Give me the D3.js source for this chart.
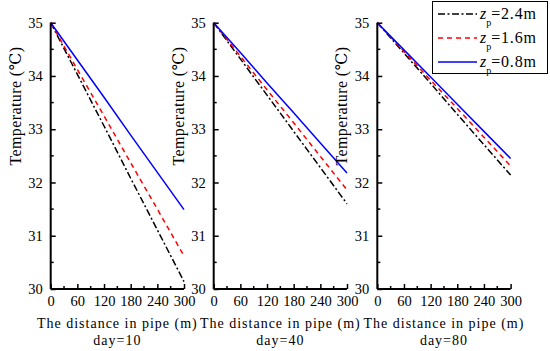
<!DOCTYPE html>
<html><head><meta charset="utf-8">
<script src="https://cdn.jsdelivr.net/npm/d3@7"></script>
<style>body{margin:0;background:#fff;} svg text{font-family:"Liberation Serif","Times New Roman","DejaVu Serif",serif;}</style>
</head><body>
<svg id="c" width="550" height="351"></svg>
<script>
const distance = [0, 60, 120, 180, 240, 300];
const days = ["day=10", "day=40", "day=80"];
const seriesNames = ["2.4m", "1.6m", "0.8m"];
// values per panel (day), per series (zp)
const day10_zp24 = [35, 34.03, 33.06, 32.08, 31.11, 30.14];
const day10_zp16 = [35, 34.12, 33.25, 32.37, 31.50, 30.62];
const day10_zp08 = [35, 34.30, 33.60, 32.89, 32.19, 31.49];
const day40_zp24 = [35, 34.32, 33.64, 32.96, 32.28, 31.60];
const day40_zp16 = [35, 34.37, 33.74, 33.12, 32.49, 31.86];
const day40_zp08 = [35, 34.44, 33.87, 33.31, 32.74, 32.18];
const day80_zp24 = [35, 34.43, 33.86, 33.28, 32.71, 32.14];
const day80_zp16 = [35, 34.46, 33.92, 33.39, 32.85, 32.31];
const day80_zp08 = [35, 34.49, 33.98, 33.47, 32.96, 32.45];
const xTicks = [0, 60, 120, 180, 240, 300];
const yTicks = [30, 31, 32, 33, 34, 35];

const panels = [
  [day10_zp24, day10_zp16, day10_zp08],
  [day40_zp24, day40_zp16, day40_zp08],
  [day80_zp24, day80_zp16, day80_zp08]
];
const styles = [
  {color: "#000", dash: "7,2.5,2,2.5"},
  {color: "#ff0000", dash: "5,4"},
  {color: "#0000ff", dash: null}
];
const FONT = "Liberation Serif, Times New Roman, DejaVu Serif, serif";

const svg = d3.select("#c");
const lefts = [50.7, 213.7, 377.3];
const pw = 133.3;
const plotTop = 22.7, plotBottom = 289;

panels.forEach((series, pi) => {
  const x = d3.scaleLinear().domain([0, 300]).range([lefts[pi], lefts[pi] + pw]);
  const y = d3.scaleLinear().domain([30, 35]).range([plotBottom, plotTop]);
  const g = svg.append("g");

  series.forEach((vals, si) => {
    const line = d3.line().x((d, i) => x(distance[i])).y(d => y(d));
    g.append("path").datum(vals).attr("d", line)
      .attr("fill", "none").attr("stroke", styles[si].color)
      .attr("stroke-width", 1.5)
      .attr("stroke-dasharray", styles[si].dash);
  });

  const xa = g.append("g").attr("transform", `translate(0,${plotBottom})`)
    .call(d3.axisBottom(x).tickValues(xTicks).tickSize(-5).tickPadding(7).tickFormat(d3.format("d")));
  xa.attr("font-family", FONT);
  xa.select(".domain").attr("stroke-width", 2).attr("d", `M${x(0)},0H${x(300)}`);
  xa.selectAll(".tick line").attr("stroke-width", 1.5);
  xa.selectAll("text").attr("font-size", 14.5).attr("font-family", FONT).attr("fill", "#000");
  const minorX = d3.range(30, 300, 60);
  xa.selectAll(".minor").data(minorX).enter().append("line")
    .attr("x1", d => x(d)).attr("x2", d => x(d)).attr("y1", 0).attr("y2", -3)
    .attr("stroke", "#000").attr("stroke-width", 1.5);

  const ya = g.append("g").attr("transform", `translate(${x(0)},0)`)
    .call(d3.axisLeft(y).tickValues(yTicks).tickSize(-5).tickPadding(8).tickFormat(d3.format("d")));
  ya.attr("font-family", FONT);
  ya.select(".domain").attr("stroke-width", 2).attr("d", `M0,${y(35)}V${y(30)}`);
  ya.selectAll(".tick line").attr("stroke-width", 1.5);
  ya.selectAll("text").attr("font-size", 14.5).attr("font-family", FONT).attr("fill", "#000");
  const minorY = d3.range(30.5, 35, 1);
  ya.selectAll(".minor").data(minorY).enter().append("line")
    .attr("x1", 0).attr("x2", 3).attr("y1", d => y(d)).attr("y2", d => y(d))
    .attr("stroke", "#000").attr("stroke-width", 1.5);

  g.append("text").attr("transform", `translate(${x(0) - 30},106) rotate(-90)`)
    .attr("text-anchor", "middle").attr("font-size", 16).attr("letter-spacing", 0.4)
    .attr("font-family", FONT).attr("fill", "#000")
    .text("Temperature (℃)");

  const cx = (x(0) + x(300)) / 2;
  g.append("text").attr("x", cx).attr("y", 328).attr("text-anchor", "middle")
    .attr("font-size", 14).attr("letter-spacing", 1.0).attr("font-family", FONT).attr("fill", "#000")
    .text("The distance in pipe (m)");
  g.append("text").attr("x", cx).attr("y", 345).attr("text-anchor", "middle")
    .attr("font-size", 14).attr("letter-spacing", 1.0).attr("font-family", FONT).attr("fill", "#000")
    .text(days[pi]);
});

const lg = svg.append("g");
lg.append("rect").attr("x", 432.5).attr("y", 1.5).attr("width", 115).attr("height", 72)
  .attr("fill", "#fff").attr("stroke", "#000").attr("stroke-width", 1);
seriesNames.forEach((n, i) => {
  const yy = 14 + i * 24;
  lg.append("line").attr("x1", 438).attr("x2", 477).attr("y1", yy).attr("y2", yy)
    .attr("stroke", styles[i].color).attr("stroke-width", 1.5)
    .attr("stroke-dasharray", styles[i].dash);
  const t = lg.append("text").attr("x", 480).attr("y", yy + 5).attr("font-size", 16)
    .attr("font-family", FONT).attr("fill", "#000");
  t.append("tspan").attr("font-style", "italic").text("z");
  t.append("tspan").attr("font-size", 10).attr("dy", 7).text("p");
  t.append("tspan").attr("dy", -7).attr("letter-spacing", 0.8).text("=" + n);
});
</script>
</body></html>
